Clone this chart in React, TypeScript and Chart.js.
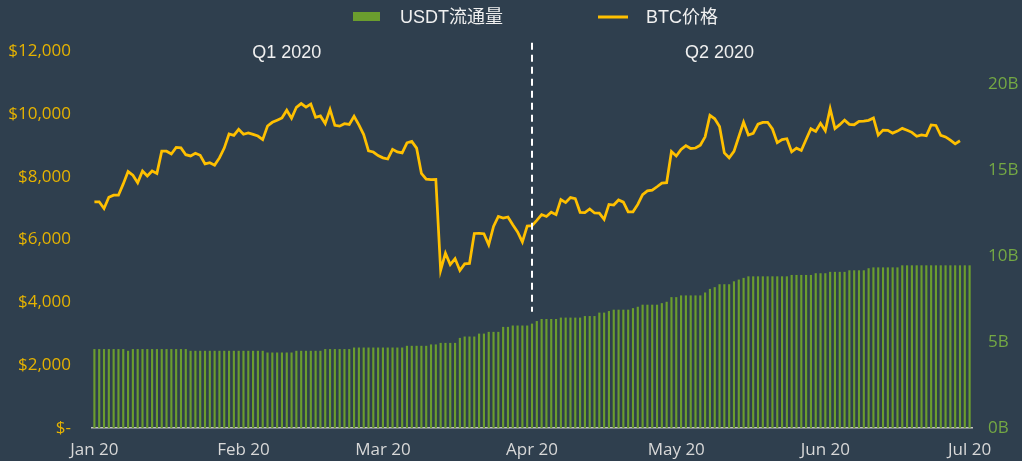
import { useEffect, useRef } from 'react';
import { Chart, registerables } from 'chart.js';

Chart.register(...registerables);

// ---------- DATA ----------
const MONTH_TICKS = ['Jan 20', 'Feb 20', 'Mar 20', 'Apr 20', 'May 20', 'Jun 20', 'Jul 20'];

// daily categories, 1 Jan 2020 .. 1 Jul 2020
const DAYS: string[] = (() => {
  const out: string[] = [];
  const d = new Date(Date.UTC(2020, 0, 1));
  const end = Date.UTC(2020, 6, 1);
  while (d.getTime() <= end) {
    out.push(d.toISOString().slice(0, 10));
    d.setUTCDate(d.getUTCDate() + 1);
  }
  return out;
})();

// USDT circulating supply, billions
const USDT_JAN = [4.57, 4.57, 4.57, 4.57, 4.57, 4.57, 4.57, 4.47, 4.57, 4.57, 4.57, 4.57, 4.57, 4.57, 4.57, 4.57, 4.57, 4.57, 4.57, 4.57, 4.47, 4.47, 4.47, 4.47, 4.47, 4.47, 4.47, 4.47, 4.47, 4.47, 4.47];
const USDT_FEB = [4.47, 4.47, 4.47, 4.47, 4.47, 4.37, 4.37, 4.37, 4.37, 4.37, 4.37, 4.47, 4.47, 4.47, 4.47, 4.47, 4.47, 4.57, 4.57, 4.57, 4.57, 4.57, 4.57, 4.66, 4.66, 4.66, 4.66, 4.66, 4.66];
const USDT_MAR = [4.66, 4.66, 4.66, 4.66, 4.66, 4.76, 4.76, 4.76, 4.76, 4.76, 4.84, 4.84, 4.93, 4.93, 4.93, 4.93, 5.22, 5.30, 5.30, 5.30, 5.47, 5.47, 5.57, 5.57, 5.57, 5.86, 5.86, 5.94, 5.94, 5.94, 5.94];
const USDT_APR = [6.05, 6.20, 6.32, 6.32, 6.32, 6.32, 6.40, 6.40, 6.40, 6.40, 6.40, 6.49, 6.49, 6.49, 6.69, 6.69, 6.78, 6.86, 6.86, 6.86, 6.86, 6.95, 7.03, 7.15, 7.15, 7.15, 7.15, 7.24, 7.32, 7.59];
const USDT_MAY = [7.59, 7.69, 7.69, 7.69, 7.69, 7.69, 7.86, 8.07, 8.17, 8.34, 8.34, 8.34, 8.51, 8.61, 8.71, 8.80, 8.80, 8.80, 8.80, 8.80, 8.80, 8.80, 8.80, 8.80, 8.88, 8.88, 8.88, 8.88, 8.88, 8.98, 8.98];
const USDT_JUN = [8.98, 9.06, 9.06, 9.06, 9.06, 9.15, 9.15, 9.15, 9.15, 9.27, 9.32, 9.32, 9.32, 9.32, 9.32, 9.32, 9.44, 9.44, 9.44, 9.44, 9.44, 9.44, 9.44, 9.44, 9.44, 9.44, 9.44, 9.44, 9.44, 9.44];
const USDT_JUL = [9.44];

// BTC price, USD
const BTC_JAN = [7194, 7200, 6985, 7345, 7410, 7411, 7770, 8163, 8044, 7807, 8178, 8020, 8180, 8105, 8813, 8810, 8723, 8930, 8915, 8700, 8660, 8745, 8680, 8407, 8445, 8368, 8597, 8910, 9358, 9316, 9508];
const BTC_FEB = [9350, 9393, 9345, 9293, 9180, 9613, 9730, 9796, 9866, 10116, 9857, 10208, 10327, 10214, 10312, 9889, 9934, 9690, 10141, 9633, 9608, 9686, 9663, 9924, 9650, 9341, 8820, 8784, 8672];
const BTC_MAR = [8599, 8562, 8869, 8787, 8755, 9078, 9123, 8909, 8108, 7923, 7909, 7911, 5020, 5563, 5200, 5392, 5014, 5225, 5238, 6191, 6198, 6185, 5830, 6416, 6734, 6681, 6716, 6469, 6243, 5922, 6429];
const BTC_APR = [6438, 6606, 6793, 6733, 6868, 6792, 7271, 7176, 7334, 7302, 6865, 6859, 6971, 6845, 6842, 6642, 7116, 7096, 7257, 7189, 6881, 6880, 7117, 7429, 7550, 7570, 7679, 7795, 7807, 8801];
const BTC_MAY = [8658, 8864, 8989, 8897, 8912, 9003, 9268, 9951, 9842, 9593, 8756, 8601, 8804, 9269, 9733, 9328, 9377, 9670, 9726, 9730, 9518, 9081, 9182, 9209, 8790, 8906, 8835, 9181, 9525, 9439, 9700];
const BTC_JUN = [9461, 10167, 9529, 9656, 9800, 9665, 9653, 9758, 9771, 9794, 9870, 9321, 9480, 9475, 9386, 9450, 9538, 9480, 9411, 9288, 9332, 9303, 9648, 9629, 9313, 9264, 9162, 9046, 9143];

const USDT_SUPPLY = [...USDT_JAN, ...USDT_FEB, ...USDT_MAR, ...USDT_APR, ...USDT_MAY, ...USDT_JUN, ...USDT_JUL];
const BTC_PRICE = [...BTC_JAN, ...BTC_FEB, ...BTC_MAR, ...BTC_APR, ...BTC_MAY, ...BTC_JUN];

const SERIES_NAMES = ['USDT流通量', 'BTC价格'];
const QUARTER_LABELS = ['Q1 2020', 'Q2 2020'];
const QUARTER_LABEL_DAYS = ['2020-02-10', '2020-05-10'];
const QUARTER_SPLIT_DAY = '2020-04-01';

// ---------- STYLE ----------
const BG = '#2f3f4e';
const GREEN = '#6b9d2e';
const GOLD = '#ffc000';
const GOLD_TICK = '#e6b300';
const GREEN_TICK = '#74a844';
const TEXT = '#f0f0f0';
const AXIS_TEXT = '#d8d8d8';
const TICK_FONT = { family: "'Open Sans', 'DejaVu Sans', sans-serif", size: 17 };
const LABEL_FONT = "18px 'Liberation Sans', 'Noto Sans CJK SC', sans-serif";

const bgPlugin = {
  id: 'bg',
  beforeDraw(chart: any) {
    const { ctx, width, height } = chart;
    ctx.save();
    ctx.fillStyle = BG;
    ctx.fillRect(0, 0, width, height);
    ctx.restore();
  },
};

const overlayPlugin = {
  id: 'overlay',
  afterDraw(chart: any) {
    const { ctx } = chart;
    const x = chart.scales.x;
    const y = chart.scales.y;
    ctx.save();
    // quarter divider
    const xs = x.getPixelForValue(DAYS.indexOf(QUARTER_SPLIT_DAY));
    ctx.strokeStyle = '#ffffff';
    ctx.lineWidth = 2;
    ctx.setLineDash([7, 5]);
    ctx.beginPath();
    ctx.moveTo(xs, y.getPixelForValue(12260));
    ctx.lineTo(xs, y.getPixelForValue(3700));
    ctx.stroke();
    ctx.setLineDash([]);
    // quarter labels
    ctx.font = LABEL_FONT;
    ctx.fillStyle = TEXT;
    ctx.textAlign = 'center';
    ctx.textBaseline = 'middle';
    QUARTER_LABELS.forEach((t, i) => {
      ctx.fillText(t, x.getPixelForValue(DAYS.indexOf(QUARTER_LABEL_DAYS[i])), y.getPixelForValue(11950));
    });
    // legend
    const ds = chart.data.datasets;
    ctx.textAlign = 'left';
    const ly = 17;
    ctx.fillStyle = ds[0].backgroundColor;
    ctx.fillRect(353, ly - 5, 27, 9);
    ctx.fillStyle = TEXT;
    ctx.fillText(ds[0].label, 400, ly + 1);
    ctx.strokeStyle = ds[1].borderColor;
    ctx.lineWidth = 3;
    ctx.beginPath();
    ctx.moveTo(598, ly);
    ctx.lineTo(628, ly);
    ctx.stroke();
    ctx.fillStyle = TEXT;
    ctx.fillText(ds[1].label, 646, ly + 1);
    ctx.restore();
  },
};

export default function App() {
  const ref = useRef<HTMLCanvasElement>(null);
  useEffect(() => {
    document.body.style.margin = '0';
    const chart = new Chart(ref.current as HTMLCanvasElement, {
      data: {
        labels: DAYS,
        datasets: [
          {
            type: 'bar',
            label: SERIES_NAMES[0],
            data: USDT_SUPPLY,
            yAxisID: 'y1',
            backgroundColor: GREEN,
            barThickness: 1.5,
            order: 2,
          },
          {
            type: 'line',
            label: SERIES_NAMES[1],
            data: BTC_PRICE,
            yAxisID: 'y',
            borderColor: GOLD,
            backgroundColor: GOLD,
            borderWidth: 2.75,
            pointRadius: 0,
            tension: 0,
            order: 1,
          },
        ],
      } as any,
      options: {
        animation: false,
        responsive: false,
        maintainAspectRatio: false,
        layout: { padding: { top: 51, left: 0, right: 0, bottom: 0 } },
        plugins: { legend: { display: false }, tooltip: { enabled: false } },
        scales: {
          x: {
            type: 'category',
            offset: true,
            grid: { display: true, color: 'rgba(0,0,0,0)', drawTicks: false },
            border: { display: true, color: '#c4c4c4', width: 1.5 },
            ticks: {
              autoSkip: false,
              maxRotation: 0,
              minRotation: 0,
              padding: 12,
              color: AXIS_TEXT,
              font: TICK_FONT,
              callback: (_v: any, i: number) => {
                const d = DAYS[i];
                if (!d || !d.endsWith('-01')) return '';
                return MONTH_TICKS[parseInt(d.slice(5, 7), 10) - 1];
              },
            },
            afterFit: (s: any) => { s.height = 33; },
          },
          y: {
            position: 'left',
            min: 0,
            max: 12000,
            grid: { display: false, drawTicks: false },
            border: { display: false },
            ticks: {
              stepSize: 2000,
              padding: 21,
              color: GOLD_TICK,
              font: TICK_FONT,
              callback: (v: any) => (v === 0 ? '$-' : '$' + Number(v).toLocaleString('en-US')),
            },
            afterFit: (s: any) => { s.width = 92; },
          },
          y1: {
            position: 'right',
            min: 0,
            max: 21.92,
            grid: { display: false, drawTicks: false },
            border: { display: false },
            ticks: {
              stepSize: 5,
              padding: 16,
              color: GREEN_TICK,
              font: TICK_FONT,
              callback: (v: any) => v + 'B',
            },
            afterBuildTicks: (s: any) => { s.ticks = s.ticks.filter((t: any) => t.value % 5 === 0); },
            afterFit: (s: any) => { s.width = 50; },
          },
        },
      } as any,
      plugins: [bgPlugin, overlayPlugin],
    });
    return () => chart.destroy();
  }, []);
  return (
    <div style={{ width: 1022, height: 461, background: BG }}>
      <canvas ref={ref} width={1022} height={461} style={{ display: 'block', width: 1022, height: 461 }} />
    </div>
  );
}
